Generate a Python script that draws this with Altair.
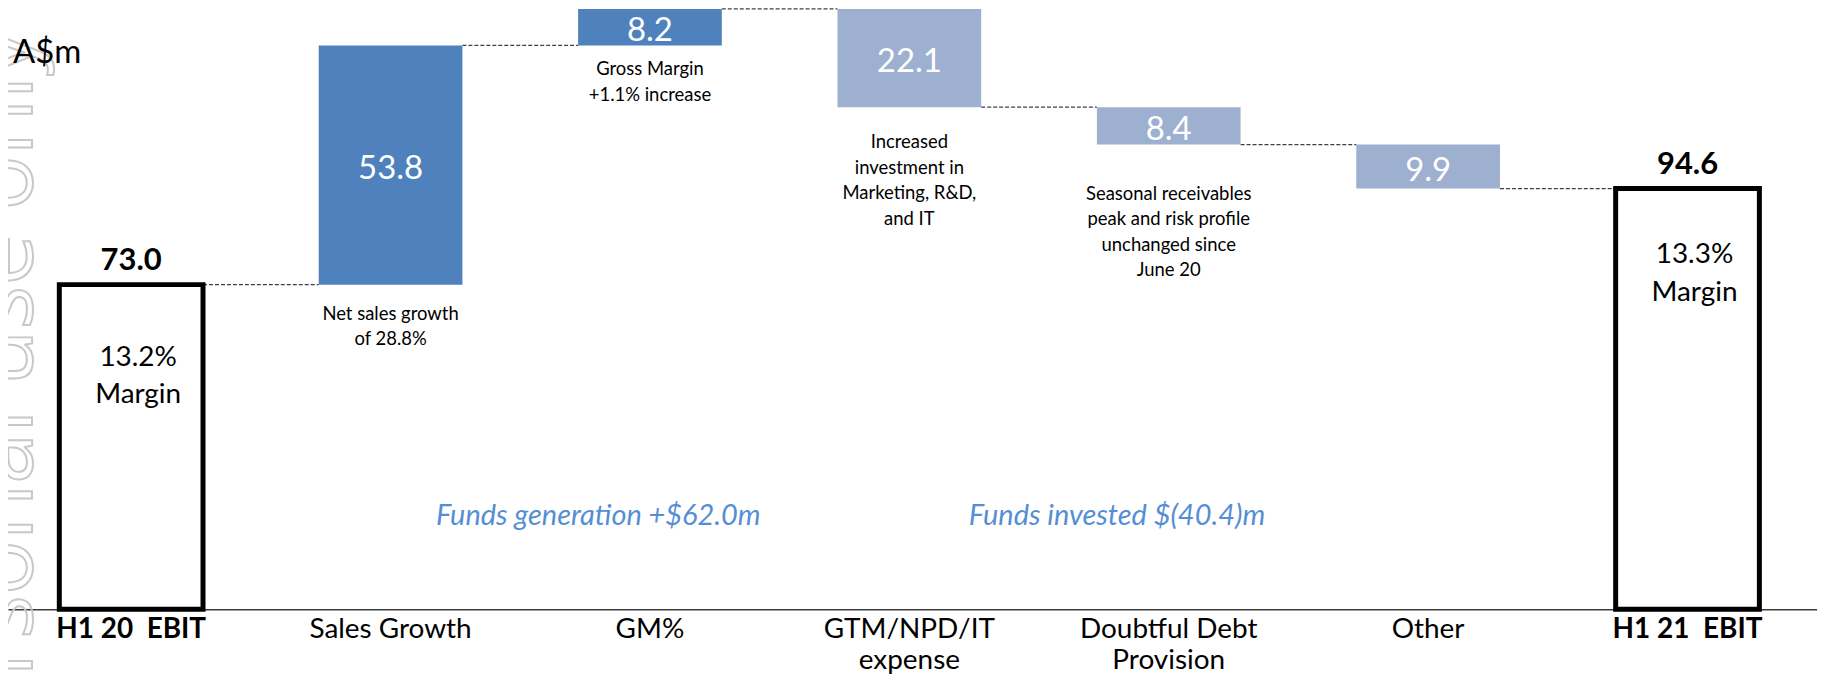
import altair as alt
import pandas as pd

# ---------------- data ----------------
categories = ["H1 20\u00a0 EBIT", "Sales Growth", "GM%", "GTM/NPD/IT|expense",
              "Doubtful Debt|Provision", "Other", "H1 21\u00a0 EBIT"]
values = [73.0, 53.8, 8.2, -22.1, -8.4, -9.9, 94.6]
kinds = ["total", "up", "up", "down", "down", "down", "total"]
value_labels = ["73.0", "53.8", "8.2", "22.1", "8.4", "9.9", "94.6"]

note_cats = ["Sales Growth", "GM%", "GTM/NPD/IT|expense", "Doubtful Debt|Provision"]
note_texts = ["Net sales growth\nof 28.8%",
              "Gross Margin\n+1.1% increase",
              "Increased\ninvestment in\nMarketing, R&D,\nand IT",
              "Seasonal receivables\npeak and risk profile\nunchanged since\nJune 20"]
note_levels = [68.5, 123.4, 107.0, 95.4]

margin_cats = ["H1 20\u00a0 EBIT", "H1 21\u00a0 EBIT"]
margin_texts = ["13.2%\nMargin", "13.3%\nMargin"]
margin_levels = [59.7, 82.7]

funds_cats = ["GM%", "Doubtful Debt|Provision"]
funds_texts = ["Funds generation +$62.0m", "Funds invested $(40.4)m"]
funds_levels = [21.0, 21.0]

# ---------------- derived tables ----------------
rows = []
cum = 0.0
for c, v, k, lab in zip(categories, values, kinds, value_labels):
    if k == "total":
        s, e = 0.0, v
    else:
        s, e = cum, round(cum + v, 1)
    cum = e
    rows.append(dict(cat=c, start=s, end=e, kind=k, label=lab,
                     mid=(s + e) / 2, top=max(s, e)))
bars = pd.DataFrame(rows)

conn = pd.DataFrame([dict(src=categories[i], dst=categories[i + 1], level=bars["end"][i])
                     for i in range(len(categories) - 1)])
notes = pd.DataFrame(dict(cat=note_cats, text=note_texts, level=note_levels))
margins = pd.DataFrame(dict(cat=margin_cats, text=margin_texts, level=margin_levels))
funds = pd.DataFrame(dict(cat=funds_cats, text=funds_texts, level=funds_levels))

FONT = "Lato"
DARK = "#4F81BD"
LIGHT = "#9DB0CF"

xscale = alt.Scale(domain=categories, paddingInner=0.446, paddingOuter=0.21, align=0.471)
yscale = alt.Scale(domain=[0, 135], nice=False, zero=True)

xaxis = alt.Axis(
    title=None, ticks=False, tickSize=0, grid=False,
    domainColor="#3a3a3a", domainWidth=1.6,
    labelFont=FONT, labelFontSize=28, labelColor="black",
    labelFontWeight={"condition": {"test": "indexof(datum.value, 'EBIT') >= 0", "value": "bold"},
                     "value": "normal"},
    labelExpr="split(datum.label, '|')",
    labelBaseline="top", labelPadding=6, labelLineHeight=31,
    labelLimit=0, labelOverlap=False, labelAngle=0,
)


def X(field, **kw):
    return alt.X(field, type="nominal", scale=xscale, axis=xaxis, sort=categories, **kw)


def Y(field):
    return alt.Y(field, type="quantitative", scale=yscale, axis=None)


base = alt.Chart(bars)

watermark = alt.Chart(pd.DataFrame({"t": ["For personal use only"]})).mark_text(
    angle=270, align="right", baseline="alphabetic", font="Open Sans", fontSize=92,
    fillOpacity=0, stroke="#c8c8c8", strokeWidth=2, clip=False,
).encode(x=alt.value(24), y=alt.value(21), text="t:N")

unit = alt.Chart(pd.DataFrame({"t": ["A$m"]})).mark_text(
    align="left", baseline="alphabetic", font=FONT, fontSize=33, color="black",
).encode(x=alt.value(5), y=alt.value(54), text="t:N")

connectors = alt.Chart(conn).mark_rule(
    color="#404040", strokeWidth=1.2, strokeDash=[4, 2]
).encode(
    x=X("src", bandPosition=1),
    x2=alt.X2("dst", bandPosition=0),
    y=Y("level"),
)

step_bars = base.transform_filter("datum.kind != 'total'").mark_bar().encode(
    x=X("cat"),
    y=Y("start"),
    y2="end",
    color=alt.Color("kind:N", scale=alt.Scale(domain=["up", "down"], range=[DARK, LIGHT]),
                    legend=None),
)

total_bars = base.transform_filter("datum.kind == 'total'").mark_bar(
    fill="white", stroke="black", strokeWidth=5
).encode(x=X("cat"), y=Y("start"), y2="end")

step_labels = base.transform_filter("datum.kind != 'total'").mark_text(
    color="white", font=FONT, fontSize=33, baseline="middle", dy=4
).encode(x=X("cat"), y=Y("mid"), text="label:N")

total_labels = base.transform_filter("datum.kind == 'total'").mark_text(
    color="black", font=FONT, fontSize=31, fontWeight="bold", baseline="alphabetic", dy=-15
).encode(x=X("cat"), y=Y("top"), text="label:N")

note_layer = alt.Chart(notes).mark_text(
    font=FONT, fontSize=18.5, lineBreak="\n", lineHeight=25.5, baseline="top", color="black"
).encode(x=X("cat"), y=Y("level"), text="text:N")

margin_layer = alt.Chart(margins).mark_text(
    font=FONT, fontSize=28, lineBreak="\n", lineHeight=37.5, baseline="top", color="black", dx=7
).encode(x=X("cat"), y=Y("level"), text="text:N")

funds_layer = alt.Chart(funds).mark_text(
    font=FONT, fontSize=29, fontStyle="italic", color="#558ED5", baseline="middle"
).encode(x=X("cat", bandPosition=0.14), y=Y("level"), text="text:N")

chart = alt.layer(
    watermark, connectors, step_bars, total_bars, step_labels, total_labels,
    note_layer, margin_layer, funds_layer, unit,
).properties(
    width=1814, height=602,
    padding={"left": 0, "top": 0, "right": 0, "bottom": 64},
    autosize=alt.AutoSizeParams(type="none"),
    background="white",
).configure_view(stroke=None, strokeWidth=0)

chart.save("out.html", embed_options={"renderer": "svg", "actions": False})
